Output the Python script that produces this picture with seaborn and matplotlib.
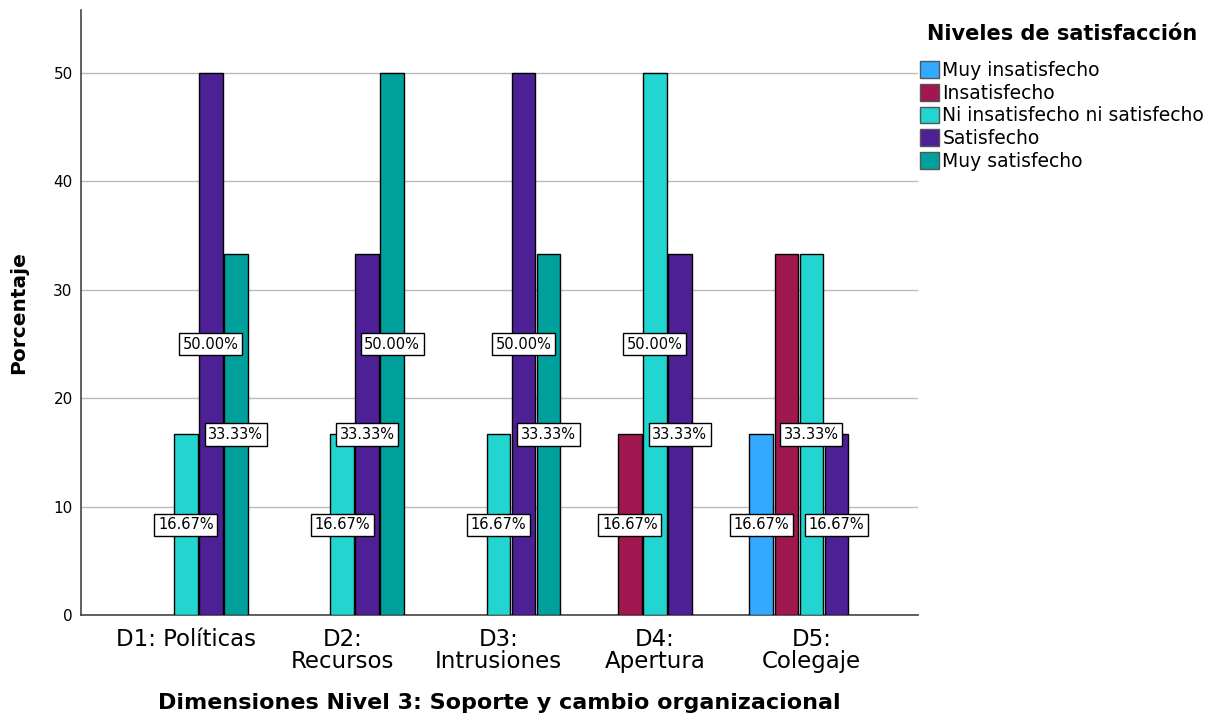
import matplotlib
matplotlib.use("Agg")
import matplotlib.pyplot as plt
import seaborn as sns
import pandas as pd
from matplotlib.patches import Patch

# Data
dimensiones = ["D1: Políticas", "D2: Recursos", "D3: Intrusiones", "D4: Apertura", "D5: Colegaje"]
tick_labels = ["D1: Políticas", "D2:\nRecursos", "D3:\nIntrusiones", "D4:\nApertura", "D5:\nColegaje"]
niveles = ["Muy insatisfecho", "Insatisfecho", "Ni insatisfecho ni satisfecho", "Satisfecho", "Muy satisfecho"]
colores = ["#33AAFF", "#A0184F", "#22D5D0", "#4E2095", "#00A19C"]

# percentage per level, one value per dimension (None = no bar)
muy_insatisfecho = [None, None, None, None, 16.67]
insatisfecho = [None, None, None, 16.67, 33.33]
ni_ni = [16.67, 16.67, 16.67, 50.00, 33.33]
satisfecho = [50.00, 33.33, 50.00, 33.33, 16.67]
muy_satisfecho = [33.33, 50.00, 33.33, None, None]

series = [muy_insatisfecho, insatisfecho, ni_ni, satisfecho, muy_satisfecho]

rows = []
for nivel, vals in zip(niveles, series):
    for dim, v in zip(dimensiones, vals):
        if v is not None:
            rows.append({"dim": dim, "nivel": nivel, "pct": v})
df = pd.DataFrame(rows)

sns.set_style("white")
plt.rcParams["font.family"] = ["DejaVu Sans"]
plt.rcParams["text.color"] = "black"
plt.rcParams["axes.labelcolor"] = "black"
plt.rcParams["xtick.color"] = "black"
plt.rcParams["ytick.color"] = "black"

fig = plt.figure(figsize=(12.09, 7.17), dpi=100)
ax = fig.add_axes([0.067, 0.142, 0.692, 0.844])

sns.barplot(data=df, x="dim", y="pct", hue="nivel", order=dimensiones, hue_order=niveles,
            palette=colores, saturation=1, width=0.8, gap=0.06, edgecolor="black", linewidth=1,
            errorbar=None, legend=False, ax=ax, zorder=3)

ax.set_ylim(0, 55.8)
ax.set_xlim(-0.67, 4.68)
ax.set_yticks([0, 10, 20, 30, 40, 50])
ax.tick_params(axis="y", labelsize=11, length=0, pad=6)
ax.tick_params(axis="x", labelsize=16.5, length=0, pad=9)
ax.set_xticks(range(len(dimensiones)))
ax.set_xticklabels(tick_labels, linespacing=0.95)
ax.yaxis.grid(True, color="#BBBBBB", linewidth=1, zorder=0)
ax.set_axisbelow(True)
for s in ["top", "right"]:
    ax.spines[s].set_visible(False)
for s in ["left", "bottom"]:
    ax.spines[s].set_color("#444444")
    ax.spines[s].set_linewidth(1.2)

ax.set_ylabel("Porcentaje", fontsize=14.5, fontweight="bold", labelpad=18)
ax.set_xlabel("Dimensiones Nivel 3: Soporte y cambio organizacional", fontsize=16,
              fontweight="bold")
ax.xaxis.label.set_va("center")
ax.xaxis.set_label_coords(0.5, -0.145)

# value labels at half bar height, skip the ones that would overlap
fig.canvas.draw()
renderer = fig.canvas.get_renderer()
placed = []
bars = [p for c in ax.containers for p in c]
for p in reversed(bars):
    h = p.get_height()
    if not h or h != h:
        continue
    t = ax.text(p.get_x() + p.get_width() / 2, h / 2, f"{h:.2f}%", ha="center", va="center",
                fontsize=10.5, zorder=5,
                bbox=dict(boxstyle="square,pad=0.25", fc="white", ec="black", lw=1))
    bb = t.get_window_extent(renderer).expanded(1.2, 1.3)
    if any(bb.overlaps(o) for o in placed):
        t.remove()
    else:
        placed.append(bb)

handles = [Patch(facecolor=c, edgecolor="#555555", label=n) for n, c in zip(niveles, colores)]
leg = fig.legend(handles=handles, title="Niveles de satisfacción", loc="upper left",
                 bbox_to_anchor=(0.7515, 0.982), frameon=False, fontsize=13.5,
                 title_fontproperties={"weight": "bold", "size": 15},
                 handlelength=1.0, handleheight=1.0, handletextpad=0.2, labelspacing=0.2,
                 borderaxespad=0.2)
leg._legend_box.sep = 12

fig.savefig("out.png", dpi=100)
